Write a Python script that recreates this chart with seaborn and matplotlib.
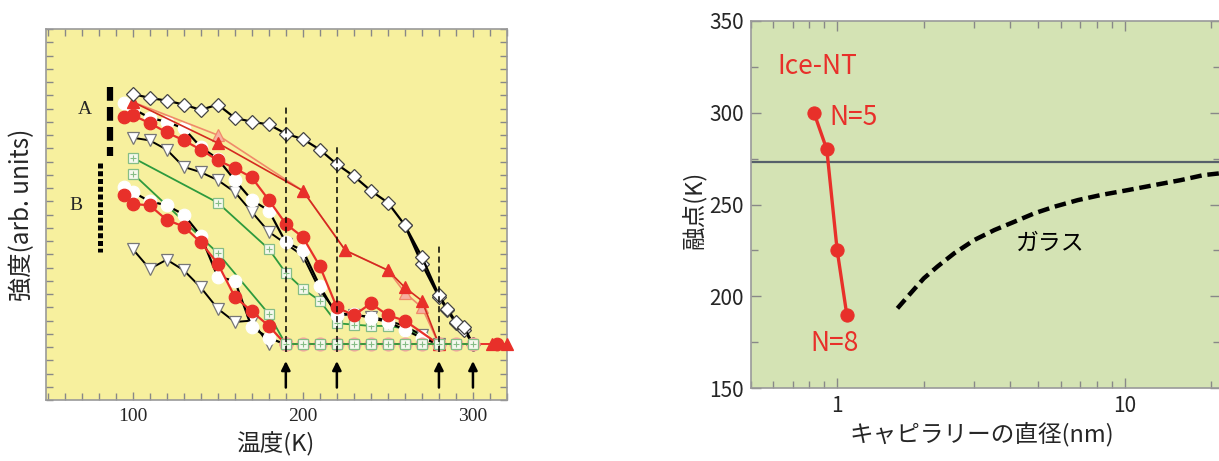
import matplotlib
matplotlib.use("Agg")
import matplotlib.pyplot as plt
import matplotlib.ticker as ticker
import seaborn as sns

# ---------------- left panel: intensity vs temperature ----------------
# group A
dia1_T = [100, 110, 120, 130, 140, 150, 160, 170, 180, 190, 200, 210, 220, 230, 240, 250, 260, 270, 280, 285, 290, 295, 300]
dia1_I = [23.1, 22.8, 22.6, 22.3, 21.9, 22.3, 21.3, 21.0, 20.8, 20.1, 19.7, 18.9, 17.8, 16.9, 15.8, 14.9, 13.2, 10.8, 7.9, 6.9, 5.9, 5.5, 4.2]
dia2_T = [260, 270, 280, 285, 290, 295, 300]
dia2_I = [13.2, 10.3, 7.8, 6.8, 5.8, 5.3, 4.2]

triA_T = [100, 150, 200, 225, 250, 260, 270, 280]
triA_I = [22.5, 19.4, 15.8, 11.3, 9.8, 8.5, 7.5, 4.2]
triB_T = [100, 150, 200, 225, 250, 260, 270, 280]
triB_I = [22.5, 20.0, 15.8, 11.3, 9.8, 8.1, 7.0, 4.2]

redA_T = [95, 100, 110, 120, 130, 140, 150, 160, 170, 180, 190, 200, 210, 220, 230, 240, 250, 260, 280]
redA_I = [21.4, 21.5, 20.9, 20.2, 19.6, 18.9, 18.1, 17.5, 16.8, 15.1, 13.3, 12.3, 10.1, 7.0, 6.4, 7.3, 6.4, 6.0, 4.2]
whtA_T = [95, 100, 110, 120, 130, 140, 150, 160, 170, 180, 190, 200, 210, 220, 230, 240, 250, 260, 270, 280]
whtA_I = [22.4, 22.0, 21.3, 21.0, 20.5, 19.1, 18.2, 16.6, 15.1, 14.3, 11.9, 11.3, 8.6, 6.4, 6.5, 6.2, 5.9, 5.3, 4.7, 4.2]
dtrA_T = [100, 110, 120, 130, 140, 150, 160, 170, 180, 190, 200, 210, 220, 230, 240, 250, 260, 270, 280]
dtrA_I = [19.8, 19.6, 18.9, 17.6, 17.2, 16.6, 15.7, 14.2, 12.7, 11.8, 10.9, 8.3, 6.6, 6.4, 6.3, 6.0, 5.6, 4.9, 4.2]
grnA_T = [100, 150, 180, 190, 200, 210, 220, 230, 240, 250, 260, 270, 280]
grnA_I = [18.3, 14.9, 11.4, 9.6, 8.4, 7.5, 5.8, 5.7, 5.6, 5.6, 5.4, 4.9, 4.2]

# group B
redB_T = [95, 100, 110, 120, 130, 140, 150, 160, 170, 180, 190]
redB_I = [15.5, 14.8, 14.7, 13.6, 13.1, 11.9, 10.3, 7.8, 6.7, 5.6, 4.2]
whtB_T = [95, 100, 110, 120, 130, 140, 150, 160, 170, 180, 190]
whtB_I = [16.1, 15.7, 15.0, 14.7, 14.0, 12.4, 9.3, 9.0, 5.5, 4.7, 4.2]
dtrB_T = [100, 110, 120, 130, 140, 150, 160, 170, 180]
dtrB_I = [11.4, 9.9, 10.6, 9.8, 8.5, 6.9, 5.9, 6.0, 4.2]
grnB_T = [100, 150, 180, 190]
grnB_I = [17.1, 11.1, 6.5, 4.2]

# melted baseline and end points
base_T = [190, 200, 210, 220, 230, 240, 250, 260, 270, 280, 290, 300]
base_I = [4.2] * len(base_T)
end_tri_T = [311, 320]
end_cir_T = [314]

vline_T = [190, 220, 280]
vline_top = [22.1, 19.1, 11.6]
arrow_T = [190, 220, 280, 300]

# ---------------- right panel: melting point vs capillary diameter ----------------
nt_d = [0.83, 0.92, 1.0, 1.08]
nt_tm = [300, 280, 225, 190]
glass_d = [1.62, 1.80, 2.00, 2.23, 2.55, 3.0, 3.52, 4.13, 4.85, 5.69, 6.87, 8.28, 10.3, 12.7, 15.7, 18.8, 21.5]
glass_tm = [193.5, 201.7, 209.8, 216.2, 223.4, 230.7, 236.1, 240.6, 245.2, 248.8, 252.4, 255.2, 257.9, 260.6, 263.3, 266.0, 267.0]
bulk_tm = 273

RED = '#e8302a'
YELLOW = '#f7f09e'
GREEN_BG = '#d4e3b4'
GRID_GREEN = '#86bd86'
LINE_GREEN = '#2e9a3e'
SPINE = '#9a9a9a'

sns.set_style("ticks")
plt.rcParams['font.family'] = ['Noto Sans CJK JP', 'DejaVu Sans']

fig = plt.figure(figsize=(12.19, 4.61), dpi=100)
ax1 = fig.add_axes([0.0377, 0.132, 0.3782, 0.805])
ax2 = fig.add_axes([0.6158, 0.1577, 0.3852, 0.7973])


def series(ax, T, I, marker, ms, mfc, mec, lc, lw, z, mew=0.9, clip=True):
    sns.lineplot(x=T, y=I, ax=ax, sort=False, estimator=None, color=lc,
                 linewidth=lw, marker=marker, markersize=ms,
                 markerfacecolor=mfc, markeredgecolor=mec,
                 markeredgewidth=mew, zorder=z, legend=False, clip_on=clip)


def grid_squares(ax, T, I, lc, lw, z):
    series(ax, T, I, 's', 6.5, '#f6f9ef', GRID_GREEN, lc, lw, z)
    ax.plot(T, I, ls='none', marker='+', ms=5, mew=0.8, color=GRID_GREEN, zorder=z + 0.1)


ax1.set_facecolor(YELLOW)

# group B (lower)
grid_squares(ax1, grnB_T, grnB_I, LINE_GREEN, 1.3, 2)
series(ax1, dtrB_T, dtrB_I, 'v', 8, 'white', '#777777', 'black', 1.4, 3)
series(ax1, whtB_T, whtB_I, 'o', 9, 'white', 'white', 'black', 1.6, 3)
series(ax1, redB_T, redB_I, 'o', 9, RED, RED, RED, 1.6, 4)

# group A (upper)
grid_squares(ax1, grnA_T, grnA_I, LINE_GREEN, 1.3, 2)
series(ax1, dtrA_T, dtrA_I, 'v', 8, 'white', '#777777', 'black', 1.4, 3)
series(ax1, whtA_T, whtA_I, 'o', 9, 'white', 'white', 'black', 1.6, 3)
series(ax1, redA_T, redA_I, 'o', 9, RED, RED, RED, 1.6, 4)
series(ax1, triB_T, triB_I, '^', 8.5, '#f6b0a0', '#f08a6a', '#f08a6a', 1.2, 4)
series(ax1, triA_T, triA_I, '^', 8.5, RED, RED, '#d42a20', 1.2, 4)
series(ax1, dia2_T, dia2_I, 'D', 7.5, 'white', '#444444', 'black', 1.8, 5)
series(ax1, dia1_T, dia1_I, 'D', 7.5, 'white', '#444444', 'black', 1.6, 5)

# baseline after melting
ax1.plot(base_T + end_cir_T, base_I + [4.2], ls='-', color=RED, lw=1.4, zorder=5)
ax1.plot(base_T, base_I, ls='none', marker='o', ms=9, mfc='none', mec='#f3a7a0', mew=1.2, zorder=5)
grid_squares(ax1, base_T, base_I, LINE_GREEN, 1.3, 6)
series(ax1, end_tri_T, [4.2] * len(end_tri_T), '^', 8.5, RED, RED, RED, 1.4, 6, clip=False)
series(ax1, end_cir_T, [4.2], 'o', 9, RED, RED, RED, 1.4, 6, clip=False)

# dashed guide lines and arrows
for t, top in zip(vline_T, vline_top):
    ax1.vlines(t, 3.6, top, colors='black', linestyles=(0, (4, 2.5)), lw=1.1, zorder=7)
for t in arrow_T:
    ax1.annotate('', xy=(t, 2.95), xytext=(t, 0.95),
                 arrowprops=dict(arrowstyle='-|>', color='black', lw=1.8,
                                 mutation_scale=13, shrinkA=0, shrinkB=0))

# A / B bars
ax1.plot([86.6, 86.6], [23.6, 18.4], color='black', lw=4.5, ls=(0, (2.2, 1.0)),
         solid_capstyle='butt', dash_capstyle='butt')
ax1.plot([80.8, 80.8], [17.9, 11.2], color='black', lw=3.6, ls=(0, (1.0, 0.55)),
         solid_capstyle='butt', dash_capstyle='butt')
ax1.text(72, 21.9, 'A', ha='center', va='center', fontsize=14, family='Liberation Serif')
ax1.text(66.7, 14.7, 'B', ha='center', va='center', fontsize=14, family='Liberation Serif')

ax1.set_xlim(49, 320)
ax1.set_ylim(0, 28)
ax1.xaxis.set_major_locator(ticker.FixedLocator([100, 200, 300]))
ax1.xaxis.set_minor_locator(ticker.MultipleLocator(10))
ax1.yaxis.set_major_locator(ticker.MultipleLocator(1))
ax1.yaxis.set_major_formatter(ticker.NullFormatter())
ax1.tick_params(which='both', direction='in', top=True, right=True, color='#888888', width=1)
ax1.tick_params(axis='x', which='major', length=6, labelsize=14, pad=6)
ax1.tick_params(axis='x', which='minor', length=5)
ax1.tick_params(axis='y', which='major', length=5)
for lab in ax1.get_xticklabels():
    lab.set_family('Liberation Serif')
for s in ax1.spines.values():
    s.set_color(SPINE)
    s.set_linewidth(1.2)
ax1.set_xlabel('温度(K)', fontsize=17)
ax1.xaxis.set_label_coords(0.497, -0.085)
ax1.set_ylabel('強度(arb. units)', fontsize=17.5)
ax1.yaxis.set_label_coords(-0.024, 0.5)

# ---------------- right panel ----------------
ax2.set_facecolor(GREEN_BG)
ax2.axhline(bulk_tm, color='#56606a', lw=1.6, zorder=2)
sns.lineplot(x=glass_d, y=glass_tm, ax=ax2, sort=False, estimator=None, color='black',
             linewidth=3.2, linestyle=(0, (2.6, 1.3)), zorder=3, legend=False)
sns.lineplot(x=nt_d, y=nt_tm, ax=ax2, sort=False, estimator=None, color=RED,
             linewidth=2.4, marker='o', markersize=9.5, markeredgecolor=RED,
             zorder=4, legend=False)

ax2.text(0.617, 325, 'Ice-NT', color=RED, fontsize=19, ha='left', va='center')
ax2.text(0.94, 297.5, 'N=5', color=RED, fontsize=19, ha='left', va='center')
ax2.text(0.807, 174.5, 'N=8', color=RED, fontsize=19, ha='left', va='center')
ax2.text(4.19, 229, 'ガラス', color='black', fontsize=16.5, ha='left', va='center')

ax2.set_xscale('log')
ax2.set_xlim(0.5, 21.5)
ax2.set_ylim(150, 350)
ax2.xaxis.set_major_locator(ticker.FixedLocator([1, 10]))
ax2.xaxis.set_major_formatter(ticker.FixedFormatter(['1', '10']))
ax2.xaxis.set_minor_locator(ticker.LogLocator(base=10, subs=range(2, 10), numticks=20))
ax2.xaxis.set_minor_formatter(ticker.NullFormatter())
ax2.yaxis.set_major_locator(ticker.MultipleLocator(50))
ax2.yaxis.set_minor_locator(ticker.MultipleLocator(25))
ax2.tick_params(which='both', direction='in', top=True, right=True, color='#888888', width=1)
ax2.tick_params(which='major', length=7, labelsize=15, pad=5)
ax2.tick_params(which='minor', length=5)
for s in ax2.spines.values():
    s.set_color(SPINE)
    s.set_linewidth(1.2)
ax2.set_xlabel('キャピラリーの直径(nm)', fontsize=17)
ax2.xaxis.set_label_coords(0.492, -0.09)
ax2.set_ylabel('融点(K)', fontsize=17)
ax2.yaxis.set_label_coords(-0.095, 0.485)

fig.savefig('out.png', dpi=100)
